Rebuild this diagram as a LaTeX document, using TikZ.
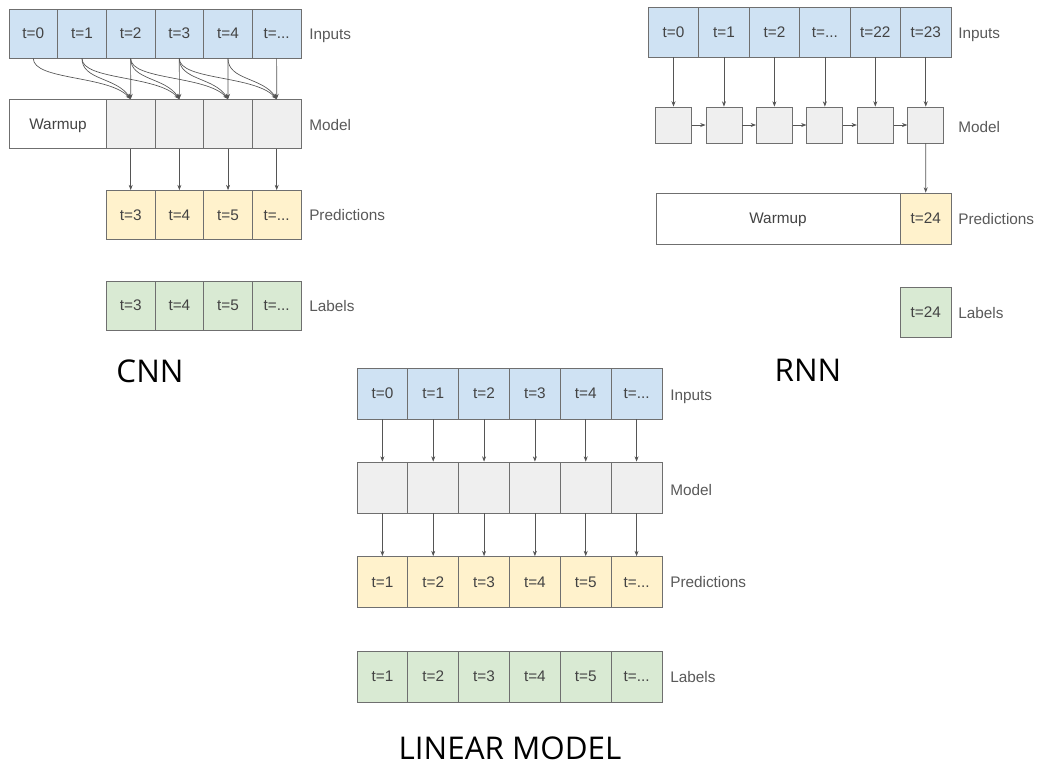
\documentclass[tikz,border=0pt]{standalone}
\usepackage{fontspec}
\setmainfont{Liberation Sans}
\newfontfamily\titlefont{Open Sans}
\usetikzlibrary{arrows.meta}
\definecolor{inblue}{HTML}{CFE2F3}
\definecolor{predyellow}{HTML}{FFF2CC}
\definecolor{labgreen}{HTML}{D9EAD3}
\definecolor{modgrey}{HTML}{EFEFEF}
\definecolor{edgegrey}{HTML}{6F6F6F}
\definecolor{textgrey}{HTML}{434343}
\definecolor{sidegrey}{HTML}{595959}
\definecolor{wiregrey}{HTML}{555555}
\newcommand\tdots{t=...}
\tikzset{
  cell/.style={draw=edgegrey, line width=0.6pt, inner sep=0pt, text=textgrey,
    text height=8.3pt, text depth=0.3pt,
    font=\fontsize{11.5}{13}\selectfont},
  cnncell/.style={cell, minimum width=36.5pt, minimum height=36.7pt},
  rnncell/.style={cell, minimum width=37.9pt, minimum height=37.6pt},
  lincell/.style={cell, minimum width=38.1pt, minimum height=38.2pt},
  rnnsq/.style={cell, fill=modgrey, minimum size=27pt},
  side/.style={anchor=west, inner sep=0pt, text=sidegrey,
    text height=8.3pt, text depth=0.3pt,
    font=\fontsize{11.5}{13}\selectfont},
  title/.style={inner sep=0pt, font=\titlefont\fontsize{23.5}{28}\selectfont},
  arr/.style={draw=wiregrey, line width=0.5pt, -{Stealth[length=4pt,width=3pt]}},
}
\begin{document}
\begin{tikzpicture}[x=0.75pt, y=-0.75pt]
\useasboundingbox (0,0) rectangle (1044,765);

% ---------------- CNN ----------------
\foreach \lab [count=\i from 0] in {t=0,t=1,t=2,t=3,t=4,\tdots}
  \node[cnncell, fill=inblue] (ci\i) at ({33.3+48.67*\i},33.5) {\lab};
\node[cnncell, fill=white, minimum width=73.5pt] (cwarm) at (58,124) {Warmup};
\foreach \i in {0,1,2,3}
  \node[cnncell, fill=modgrey] (cm\i) at ({130.7+48.67*\i},124) {};
\foreach \lab [count=\i from 0] in {t=3,t=4,t=5,\tdots}
  \node[cnncell, fill=predyellow] (cp\i) at ({130.7+48.67*\i},215) {\lab};
\foreach \lab [count=\i from 0] in {t=3,t=4,t=5,\tdots}
  \node[cnncell, fill=labgreen] (cl\i) at ({130.7+48.67*\i},305.5) {\lab};
\node[side] (cinl) at (309,34) {Inputs};
\node[side] (cmol) at (309,125) {Model};
\node[side] (cprl) at (309,215) {Predictions};
\node[side] (clal) at (309,306) {Labels};
\node[title] (cnnt) at (150,371) {CNN};
% convolution window of three inputs per output
\foreach \k/\a/\b/\c in {0/0/1/2,1/1/2/3,2/2/3/4,3/3/4/5} {
  \draw[arr] (ci\a.south) .. controls +(0,22) and +(-22,-24) .. (cm\k.north);
  \draw[arr] (ci\b.south) .. controls +(0,22) and +(-14,-22) .. (cm\k.north);
  \draw[arr] (ci\c.south) -- (cm\k.north);
  \draw[arr] (cm\k.south) -- (cp\k.north);
}

% ---------------- RNN ----------------
\foreach \lab [count=\i from 0] in {t=0,t=1,t=2,\tdots,t=22,t=23}
  \node[rnncell, fill=inblue] (ri\i) at ({673.5+50.45*\i},32) {\lab};
\foreach \i in {0,1,2,3,4,5}
  \node[rnnsq] (rm\i) at ({673.5+50.45*\i},125) {};
\foreach \i in {0,1,2,3,4,5}
  \draw[arr] (ri\i.south) -- (rm\i.north);
\foreach \i/\j in {0/1,1/2,2/3,3/4,4/5}
  \draw[arr] (rm\i.east) -- (rm\j.west);
\node[rnncell, fill=white, minimum width=183pt, minimum height=38.2pt] (rwarm) at (778,218.5) {Warmup};
\node[rnncell, fill=predyellow, minimum height=38.2pt] (rp) at (925.7,218.5) {t=24};
\node[rnncell, fill=labgreen] (rl) at (925.7,312) {t=24};
\draw[arr] (rm5.south) -- (rp.north);
\node[side] (rinl) at (958,33) {Inputs};
\node[side] (rmol) at (958,127) {Model};
\node[side] (rprl) at (958,219) {Predictions};
\node[side] (rlal) at (958,313) {Labels};
\node[title] (rnnt) at (808,370) {RNN};

% ---------------- Linear model ----------------
\foreach \lab [count=\i from 0] in {t=0,t=1,t=2,t=3,t=4,\tdots}
  \node[lincell, fill=inblue] (li\i) at ({382.4+50.83*\i},393.5) {\lab};
\foreach \i in {0,1,2,3,4,5}
  \node[lincell, fill=modgrey] (lm\i) at ({382.4+50.83*\i},487.5) {};
\foreach \lab [count=\i from 0] in {t=1,t=2,t=3,t=4,t=5,\tdots}
  \node[lincell, fill=predyellow] (lp\i) at ({382.4+50.83*\i},582) {\lab};
\foreach \lab [count=\i from 0] in {t=1,t=2,t=3,t=4,t=5,\tdots}
  \node[lincell, fill=labgreen] (ll\i) at ({382.4+50.83*\i},676.5) {\lab};
\foreach \i in {0,1,2,3,4,5} {
  \draw[arr] (li\i.south) -- (lm\i.north);
  \draw[arr] (lm\i.south) -- (lp\i.north);
}
\node[side] (linl) at (670,395) {Inputs};
\node[side] (lmol) at (670,490) {Model};
\node[side] (lprl) at (670,582) {Predictions};
\node[side] (llal) at (670,677) {Labels};
\node[title] (lint) at (510,748) {LINEAR MODEL};
\end{tikzpicture}
\end{document}
